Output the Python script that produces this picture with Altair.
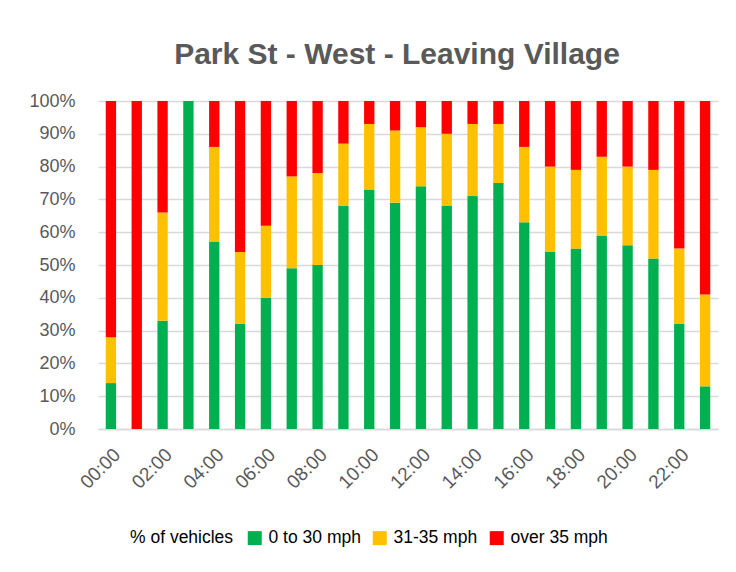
import altair as alt
import pandas as pd

hours = [f"{h:02d}:00" for h in range(24)]
green = [14, 0, 33, 100, 57, 32, 40, 49, 50, 68, 73, 69, 74, 68, 71, 75, 63, 54, 55, 59, 56, 52, 32, 13]
yellow = [14, 0, 33, 0, 29, 22, 22, 28, 28, 19, 20, 22, 18, 22, 22, 18, 23, 26, 24, 24, 24, 27, 23, 28]
red = [72, 100, 34, 0, 14, 46, 38, 23, 22, 13, 7, 9, 8, 10, 7, 7, 14, 20, 21, 17, 20, 21, 45, 59]
series = ["0 to 30 mph", "31-35 mph", "over 35 mph"]
colors = ["#00B050", "#FFC000", "#FF0000"]
ytick_values = [i / 10 for i in range(11)]

rows = []
for i, h in enumerate(hours):
    for k, (s, vals) in enumerate(zip(series, [green, yellow, red])):
        rows.append({"hour": h, "series": s, "order": k, "value": vals[i]})
df = pd.DataFrame(rows)

font = "Liberation Sans"
gray = "#595959"

chart = alt.Chart(df).mark_bar().encode(
    x=alt.X("hour:O", sort=hours,
            scale=alt.Scale(paddingInner=0.6, paddingOuter=0.3),
            axis=alt.Axis(title=None, values=hours[::2], labelAngle=-45,
                          labelFontSize=19, labelColor=gray, labelFont=font,
                          ticks=False, domainColor="#d9d9d9", domainWidth=1.5,
                          labelPadding=16, labelOverlap=False)),
    y=alt.Y("value:Q", stack="normalize",
            scale=alt.Scale(domain=[0, 1]),
            axis=alt.Axis(title=None, format=".0%", values=ytick_values,
                          labelFontSize=18, labelColor=gray, labelFont=font,
                          ticks=False, domain=False, gridColor="#d9d9d9", gridWidth=1.5,
                          labelPadding=23, labelOverlap=False)),
    color=alt.Color("series:N", sort=series,
                    scale=alt.Scale(domain=series, range=colors),
                    legend=alt.Legend(title="% of vehicles", orient="none", direction="horizontal",
                                      titleOrient="left", legendX=32, legendY=428,
                                      titleFontSize=17.5, titleFontWeight="normal", titleColor="#000000",
                                      titleFont=font, labelFont=font, labelFontSize=17.5,
                                      labelColor="#000000", symbolType="square", symbolSize=196,
                                      symbolStrokeWidth=0, columnPadding=10, titlePadding=12,
                                      labelOffset=5)),
    order=alt.Order("order:Q"),
).properties(
    width=620, height=328,
    title=alt.TitleParams("Park St - West - Leaving Village", fontSize=30, font=font,
                          fontWeight="bold", color=gray, offset=22, dx=-11),
    autosize=alt.AutoSizeParams(type="none"),
    padding={"left": 90, "top": 93, "right": 10, "bottom": 135},
).configure_view(stroke=None)

chart.save("out.html", embed_options={"renderer": "svg", "actions": False})
